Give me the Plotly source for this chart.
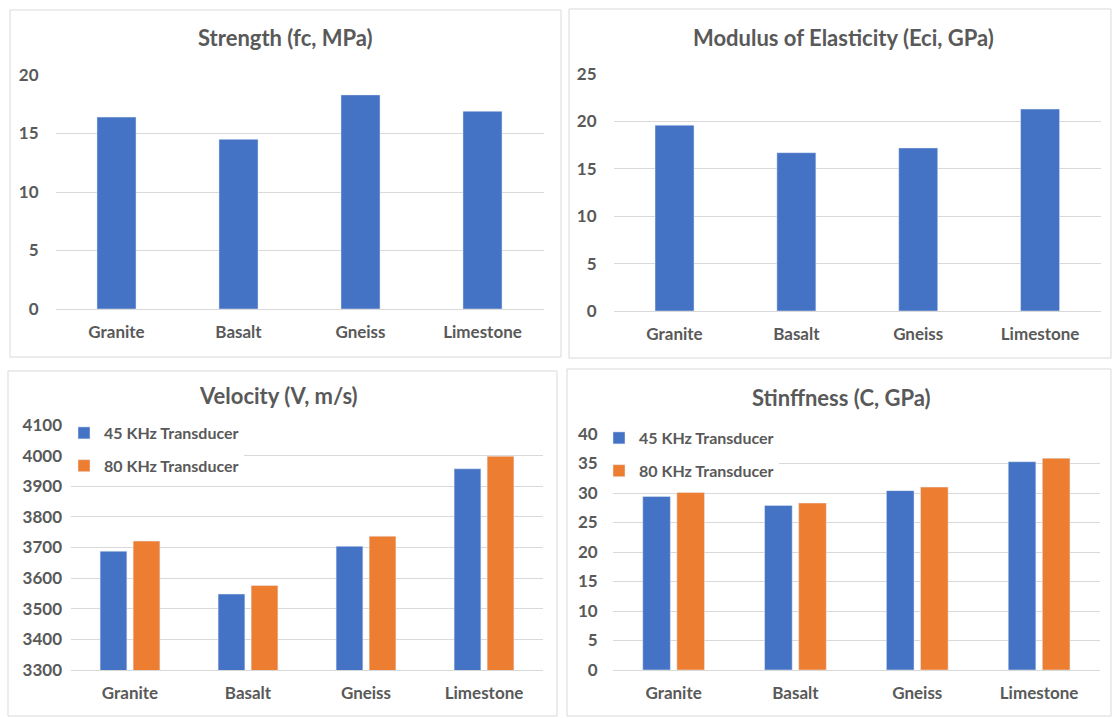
import plotly.graph_objects as go

W, H = 1112, 718

categories = ["Granite", "Basalt", "Gneiss", "Limestone"]
strength_mpa = [16.4, 14.5, 18.3, 16.9]
modulus_gpa = [19.6, 16.7, 17.2, 21.3]
velocity_45 = [3688, 3548, 3704, 3957]
velocity_80 = [3721, 3576, 3737, 3998]
stiffness_45 = [29.4, 27.9, 30.4, 35.3]
stiffness_80 = [30.1, 28.3, 31.0, 35.9]
series_names = ["45 KHz Transducer", "80 KHz Transducer"]

BLUE = "#4472C4"
ORANGE = "#ED7D31"
GRID = "#D9D9D9"
TXT = "#595959"
FONT = "Lato"


def px_x(v):
    return v / W


def px_y(v):
    return 1 - v / H


fig = go.Figure()

# panel plot areas in pixels: (x0, x1, ytop, ybottom)
areas = {
    1: (55.5, 543.5, 75, 309),
    2: (613.6, 1101, 74, 311),
    3: (71, 543, 425, 670),
    4: (612.7, 1100, 434, 670),
}
yranges = {1: [0, 20], 2: [0, 25], 3: [3300, 4100], 4: [0, 40]}
ydticks = {1: 5, 2: 5, 3: 100, 4: 5}
ystandoff = {1: 16, 2: 16, 3: 8, 4: 14}

fig.add_trace(go.Bar(x=categories, y=strength_mpa, marker_color=BLUE, width=0.32,
                     xaxis="x", yaxis="y", showlegend=False))
fig.add_trace(go.Bar(x=categories, y=modulus_gpa, marker_color=BLUE, width=0.32,
                     xaxis="x2", yaxis="y2", showlegend=False))
fig.add_trace(go.Bar(x=categories, y=velocity_45, marker_color=BLUE, name=series_names[0],
                     xaxis="x3", yaxis="y3", legend="legend", legendgroup="a"))
fig.add_trace(go.Bar(x=categories, y=velocity_80, marker_color=ORANGE, name=series_names[1],
                     xaxis="x3", yaxis="y3", legend="legend", legendgroup="b"))
fig.add_trace(go.Bar(x=categories, y=stiffness_45, marker_color=BLUE, name=series_names[0],
                     xaxis="x4", yaxis="y4", legend="legend2", legendgroup="c"))
fig.add_trace(go.Bar(x=categories, y=stiffness_80, marker_color=ORANGE, name=series_names[1],
                     xaxis="x4", yaxis="y4", legend="legend2", legendgroup="d"))

layout = dict(
    width=W, height=H,
    margin=dict(l=0, r=0, t=0, b=0, autoexpand=False),
    paper_bgcolor="white", plot_bgcolor="white",
    barmode="group", bargap=0.44, bargroupgap=0.19,
    font=dict(family=FONT, color=TXT, size=16, weight="bold"),
)

for i, (x0, x1, yt, yb) in areas.items():
    sx = "" if i == 1 else str(i)
    layout["xaxis" + sx] = dict(
        domain=[px_x(x0), px_x(x1)], anchor="y" + sx, automargin=False,
        showgrid=False, showline=True, linecolor=GRID, linewidth=1,
        ticks="", tickfont=dict(family=FONT, size=17, color=TXT, weight="bold"),
        ticklabelstandoff=8, fixedrange=True,
    )
    layout["yaxis" + sx] = dict(
        domain=[px_y(yb), px_y(yt)], anchor="x" + sx, automargin=False,
        range=yranges[i], dtick=ydticks[i], tick0=0,
        showgrid=True, gridcolor=GRID, gridwidth=1, zeroline=False,
        showline=False, ticks="",
        tickfont=dict(family=FONT, size=17, color=TXT, weight="bold"),
        ticklabelstandoff=ystandoff[i], fixedrange=True,
    )

legend_common = dict(
    bgcolor="white", borderwidth=0, xanchor="left", yanchor="top",
    traceorder="grouped", tracegroupgap=9,
    font=dict(family=FONT, size=16, color=TXT, weight="bold"),
    itemclick=False, itemdoubleclick=False,
)
layout["legend"] = dict(legend_common, x=px_x(64), y=px_y(416))
layout["legend2"] = dict(legend_common, x=px_x(599), y=px_y(421))

fig.update_layout(**layout)

# panel frames
panels = [(10, 561, 10, 357), (569, 1111, 9, 358), (8, 557, 371, 716), (567, 1111, 369, 716)]
for (x0, x1, y0, y1) in panels:
    fig.add_shape(type="rect", xref="paper", yref="paper",
                  x0=px_x(x0), x1=px_x(x1), y0=px_y(y0), y1=px_y(y1),
                  line=dict(color=GRID, width=1), fillcolor="rgba(0,0,0,0)", layer="below")

titles = [
    ("Strength (fc, MPa)", 285, 38),
    ("Modulus of Elasticity (Eci, GPa)", 843, 37),
    ("Velocity (V, m/s)", 278, 395),
    ("Stinffness (C, GPa)", 841, 398),
]
for text, cx, cy in titles:
    fig.add_annotation(text=text, xref="paper", yref="paper", x=px_x(cx), y=px_y(cy),
                       xanchor="center", yanchor="middle", showarrow=False,
                       font=dict(family=FONT, size=22, color=TXT, weight="bold"))

fig.write_html("out.html")
